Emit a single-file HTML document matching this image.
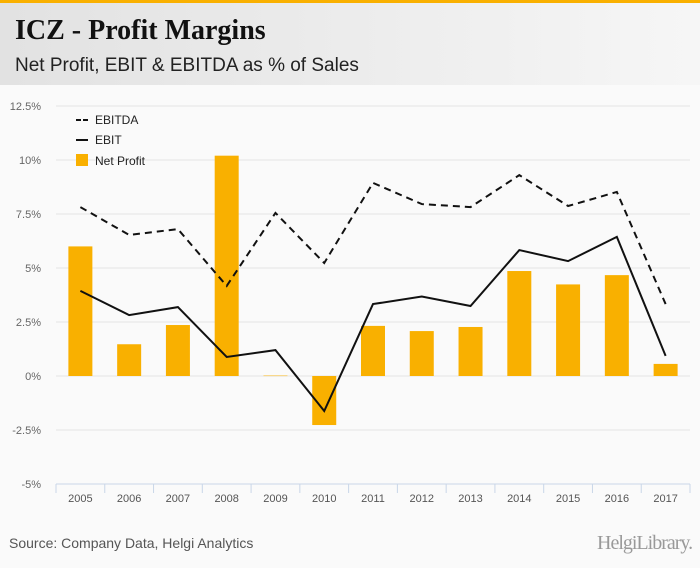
<!DOCTYPE html>
<html><head><meta charset="utf-8"><style>
body{margin:0;width:700px;height:568px;overflow:hidden;background:#fafafa;font-family:"Liberation Sans",sans-serif}
#hdr{position:absolute;left:0;top:0;width:700px;height:85px;background:linear-gradient(90deg,#e2e2e2,#f6f6f6);border-top:3px solid #f9b000;box-sizing:border-box}
#title{position:absolute;left:15px;top:12px;font-family:"Liberation Serif",serif;font-weight:bold;font-size:28px;color:#111}
#sub{position:absolute;left:15px;top:52px;font-size:19px;color:#222}
#src{position:absolute;left:9px;top:535px;font-size:14px;color:#555}
#logo{position:absolute;left:597px;top:532px;font-family:"Liberation Serif",serif;font-size:20px;color:#999;letter-spacing:-1px}
svg{position:absolute;left:0;top:0}
</style></head><body>
<div id="hdr"><div id="title">ICZ - Profit Margins</div><div id="sub">Net Profit, EBIT &amp; EBITDA as % of Sales</div></div>
<svg id="c" width="700" height="568"></svg>
<div id="src">Source: Company Data, Helgi Analytics</div>
<div id="logo">HelgiLibrary.</div>
<script>
const years=["2005","2006","2007","2008","2009","2010","2011","2012","2013","2014","2015","2016","2017"];
const netProfit=[6.0,1.47,2.36,10.2,0.02,-2.27,2.32,2.08,2.27,4.86,4.24,4.67,0.56];
const ebit=[3.94,2.82,3.19,0.88,1.2,-1.62,3.33,3.68,3.24,5.83,5.32,6.44,0.93];
const ebitda=[7.82,6.53,6.8,4.17,7.55,5.23,8.94,7.96,7.82,9.3,7.87,8.52,3.33];
const yTicks=[12.5,10,7.5,5,2.5,0,-2.5,-5];
const yLabels=["12.5%","10%","7.5%","5%","2.5%","0%","-2.5%","-5%"];
const svg=document.getElementById('c'),NS="http://www.w3.org/2000/svg";
const L=56,R=690,T=106,B=484,ymin=-5,ymax=12.5;
const step=(R-L)/years.length;
const y=v=>B-(v-ymin)/(ymax-ymin)*(B-T);
const x=i=>L+step*(i+0.5);
function mk(t,a){const e=document.createElementNS(NS,t);for(const k in a)e.setAttribute(k,a[k]);svg.appendChild(e);return e;}
yTicks.forEach((v,i)=>{
 const g=mk('line',{x1:L,x2:R,y1:y(v),y2:y(v),stroke:i==yTicks.length-1?'#c9d6e8':'#e4e4e4','stroke-width':1});
 
 
 const t=mk('text',{x:41,y:y(v)+4,'text-anchor':'end','font-size':11,fill:'#666'});t.textContent=yLabels[i];
 
 
});
for(let i=0;i<=years.length;i++){const l=mk('line',{x1:L+step*i,x2:L+step*i,y1:B,y2:B+9,stroke:'#c9d6e8'});
 
 }
years.forEach((yr,i)=>{
 const t=mk('text',{x:x(i),y:502,'text-anchor':'middle','font-size':11,fill:'#555'});t.textContent=yr;
 
 
 const v=netProfit[i];
 const b=mk('rect',{x:x(i)-12,width:24,y:Math.min(y(v),y(0)),height:Math.max(Math.abs(y(v)-y(0)),0.5),fill:'#f9b000'});
 
 
});
const p1=mk('polyline',{points:ebitda.map((v,i)=>x(i)+','+y(v)).join(' '),fill:'none',stroke:'#111','stroke-width':2,'stroke-dasharray':'7,5'});


const p2=mk('polyline',{points:ebit.map((v,i)=>x(i)+','+y(v)).join(' '),fill:'none',stroke:'#111','stroke-width':2});


// legend
const l1=mk('line',{x1:76,x2:88,y1:120,y2:120,stroke:'#111','stroke-width':2,'stroke-dasharray':'5,2'});


const l2=mk('line',{x1:76,x2:88,y1:140,y2:140,stroke:'#111','stroke-width':2});


const l3=mk('rect',{x:76,y:154,width:12,height:12,fill:'#f9b000'});


[["EBITDA",124],["EBIT",144],["Net Profit",165]].forEach(([s,yy])=>{const t=mk('text',{x:95,y:yy,'font-size':12,fill:'#222'});t.textContent=s;
 
 });
</script>
</body></html>
